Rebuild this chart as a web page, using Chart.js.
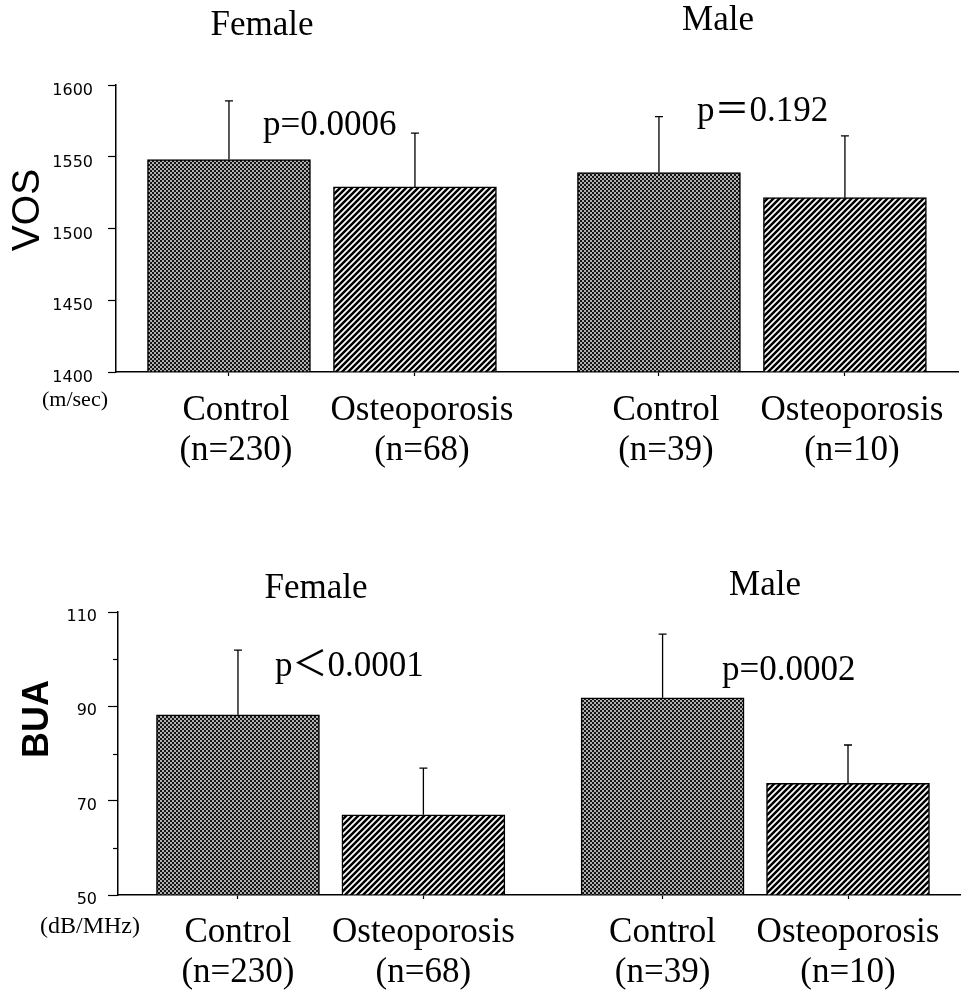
<!DOCTYPE html>
<html>
<head>
<meta charset="utf-8">
<script src="https://cdn.jsdelivr.net/npm/chart.js@4.4.0/dist/chart.umd.min.js"></script>
<style>
html,body{margin:0;padding:0;background:#fff;width:962px;height:994px;overflow:hidden;}
canvas{position:absolute;left:0;}
#c1{top:0;}
#c2{top:490px;}
</style>
</head>
<body>
<canvas id="c1" width="962" height="490"></canvas>
<canvas id="c2" width="962" height="504"></canvas>
<script>
// ---- data ----
const groups = ['Female', 'Male'];
const categories = ['Control', 'Osteoporosis'];
const sampleSizes = [230, 68, 39, 10];          // F-Control, F-Osteo, M-Control, M-Osteo
const vosMeans = [1548, 1529, 1539, 1521.5];
const vosSDs = [41, 37.5, 39, 43];
const buaMeans = [88.2, 67.0, 91.8, 73.7];
const buaSDs = [13.7, 9.9, 13.5, 8.1];
const vosTicks = [1400, 1450, 1500, 1550, 1600];
const buaTicks = [50, 70, 90, 110];
const buaMinorTicks = [60, 80, 100];
const vosPValues = ['p=0.0006', 'p\uFF1D0.192'];
const buaPValues = ['p\uFF1C0.0001', 'p=0.0002'];
const vosAxisTitle = 'VOS', vosUnit = '(m/sec)';
const buaAxisTitle = 'BUA', buaUnit = '(dB/MHz)';

const SERIF = '"Liberation Serif", "Times New Roman", "Noto Sans CJK JP", serif';

function checkerPattern(ctx) {
  const t = document.createElement('canvas'); t.width = 4; t.height = 4;
  const c = t.getContext('2d');
  c.fillStyle = '#b0b0b0'; c.fillRect(0, 0, 4, 4);
  c.fillStyle = '#151515'; c.fillRect(0, 0, 2, 2); c.fillRect(2, 2, 2, 2);
  return ctx.createPattern(t, 'repeat');
}
function hatchPattern(ctx) {
  const s = 6;
  const t = document.createElement('canvas'); t.width = s; t.height = s;
  const c = t.getContext('2d');
  c.fillStyle = '#fff'; c.fillRect(0, 0, s, s);
  c.strokeStyle = '#000'; c.lineWidth = 2.5;
  c.beginPath();
  c.moveTo(0, s); c.lineTo(s, 0);
  c.moveTo(-s / 2, s / 2); c.lineTo(s / 2, -s / 2);
  c.moveTo(s / 2, s * 1.5); c.lineTo(s * 1.5, s / 2);
  c.stroke();
  return ctx.createPattern(t, 'repeat');
}

function makePanel(id, cfg) {
  const canvas = document.getElementById(id);
  const ctx = canvas.getContext('2d');
  const checker = checkerPattern(ctx), hatch = hatchPattern(ctx);
  const xs = [], labels = [], fills = [];
  groups.forEach((g, gi) => categories.forEach((c, ci) => {
    const k = gi * categories.length + ci;
    xs.push(gi * cfg.groupStep + ci);
    labels.push([c, '(n=' + sampleSizes[k] + ')']);
    fills.push(ci === 0 ? checker : hatch);
  }));
  const points = cfg.means.map((m, i) => ({ x: xs[i], y: m }));

  const annot = {
    id: 'annot',
    afterDatasetsDraw(chart) {
      const c = chart.ctx, y = chart.scales.y;
      const meta = chart.getDatasetMeta(0);
      c.save();
      c.strokeStyle = '#000'; c.lineWidth = 1.3;
      meta.data.forEach((bar, i) => {
        const top = y.getPixelForValue(cfg.means[i] + cfg.sds[i]);
        c.beginPath();
        c.moveTo(bar.x, bar.y); c.lineTo(bar.x, top);
        c.moveTo(bar.x - 4, top); c.lineTo(bar.x + 4, top);
        c.stroke();
      });
      c.restore();
    },
    afterDraw(chart) {
      const c = chart.ctx, y = chart.scales.y;
      c.save();
      // minor ticks
      c.strokeStyle = '#000'; c.lineWidth = 1.2;
      cfg.minorTicks.forEach(v => {
        const py = Math.round(y.getPixelForValue(v)) + 0.5;
        c.beginPath(); c.moveTo(chart.chartArea.left - 5, py); c.lineTo(chart.chartArea.left, py); c.stroke();
      });
      c.fillStyle = '#000';
      c.textBaseline = 'alphabetic';
      c.font = '35px ' + SERIF;
      c.textAlign = 'center';
      cfg.titles.forEach((t, i) => c.fillText(groups[i], t[0], t[1]));
      c.textAlign = 'left';
      cfg.pPos.forEach((p, i) => c.fillText(cfg.pValues[i], p[0], p[1]));
      c.font = cfg.unitSize + 'px ' + SERIF;
      c.fillText(cfg.unit, cfg.unitPos[0], cfg.unitPos[1]);
      c.translate(cfg.axisTitlePos[0], cfg.axisTitlePos[1]);
      c.rotate(-Math.PI / 2);
      c.font = cfg.axisTitleFont;
      c.textAlign = 'center'; c.textBaseline = 'middle';
      c.fillText(cfg.axisTitle, 0, 0);
      c.restore();
    }
  };

  return new Chart(ctx, {
    type: 'bar',
    data: {
      datasets: [{
        data: points,
        backgroundColor: fills,
        borderColor: '#000',
        borderWidth: 1.5,
        barThickness: 163,
        base: cfg.yMin
      }]
    },
    options: {
      responsive: false,
      animation: false,
      devicePixelRatio: 1,
      layout: { padding: cfg.padding },
      plugins: { legend: { display: false }, tooltip: { enabled: false }, title: { display: false } },
      scales: {
        x: {
          type: 'linear',
          offset: false,
          min: cfg.xMin, max: cfg.xMax,
          afterBuildTicks: s => { s.ticks = xs.map(v => ({ value: v })); },
          afterFit: s => { s.height = cfg.xHeight; },
          ticks: {
            autoSkip: false, maxRotation: 0, minRotation: 0,
            callback: (v, i) => labels[i],
            color: '#000',
            font: { family: SERIF, size: 35, lineHeight: 1.143 },
            padding: cfg.xLabelPad,
            labelOffset: cfg.xLabelOffset
          },
          grid: { offset: false, drawOnChartArea: false, drawTicks: true, tickLength: 4, tickColor: '#000', tickWidth: 1.2 },
          border: { display: true, color: '#000', width: 1.5 }
        },
        y: {
          type: 'linear',
          beginAtZero: false,
          min: cfg.yMin, max: cfg.yMax,
          afterBuildTicks: s => { s.ticks = cfg.yTicks.map(v => ({ value: v })); },
          afterFit: s => { s.width = cfg.yWidth; },
          ticks: {
            callback: v => String(v),
            color: '#000',
            font: { family: '"DejaVu Sans", sans-serif', size: 16, weight: 'normal' },
            padding: cfg.yLabelPad,
            labelOffset: cfg.yLabelOffset
          },
          grid: { drawOnChartArea: false, drawTicks: true, tickLength: cfg.yTickLen, tickColor: '#000', tickWidth: 1.2 },
          border: { display: true, color: '#000', width: 1.5 }
        }
      }
    },
    plugins: [annot]
  });
}

makePanel('c1', {
  means: vosMeans, sds: vosSDs,
  yMin: 1400, yMax: 1600, yTicks: vosTicks, minorTicks: [],
  padding: { top: 85, right: 4, bottom: 0, left: 0 },
  yWidth: 116, xHeight: 118,
  yTickLen: 8, yLabelPad: 15, yLabelOffset: 6,
  groupStep: 2.312, xMin: -0.6075, xMax: 3.92,
  xLabelPad: 15, xLabelOffset: 7,
  titles: [[262, 35], [718, 30]],
  pValues: vosPValues, pPos: [[263, 135], [697, 121]],
  unit: vosUnit, unitSize: 22, unitPos: [42, 406],
  axisTitle: vosAxisTitle, axisTitlePos: [28, 210], axisTitleFont: '39px "Liberation Sans", Arial, sans-serif'
});

makePanel('c2', {
  means: buaMeans, sds: buaSDs,
  yMin: 50, yMax: 110, yTicks: buaTicks, minorTicks: buaMinorTicks,
  padding: { top: 122, right: 2, bottom: 0, left: 0 },
  yWidth: 118, xHeight: 99,
  yTickLen: 10, yLabelPad: 11, yLabelOffset: 5,
  groupStep: 2.29, xMin: -0.647, xMax: 3.894,
  xLabelPad: 14, xLabelOffset: 0,
  titles: [[316, 108], [765, 105]],
  pValues: buaPValues, pPos: [[275, 186], [722, 190]],
  unit: buaUnit, unitSize: 24, unitPos: [40, 443],
  axisTitle: buaAxisTitle, axisTitlePos: [38, 229], axisTitleFont: 'bold 36px "Liberation Sans", Arial, sans-serif'
});
</script>
</body>
</html>
